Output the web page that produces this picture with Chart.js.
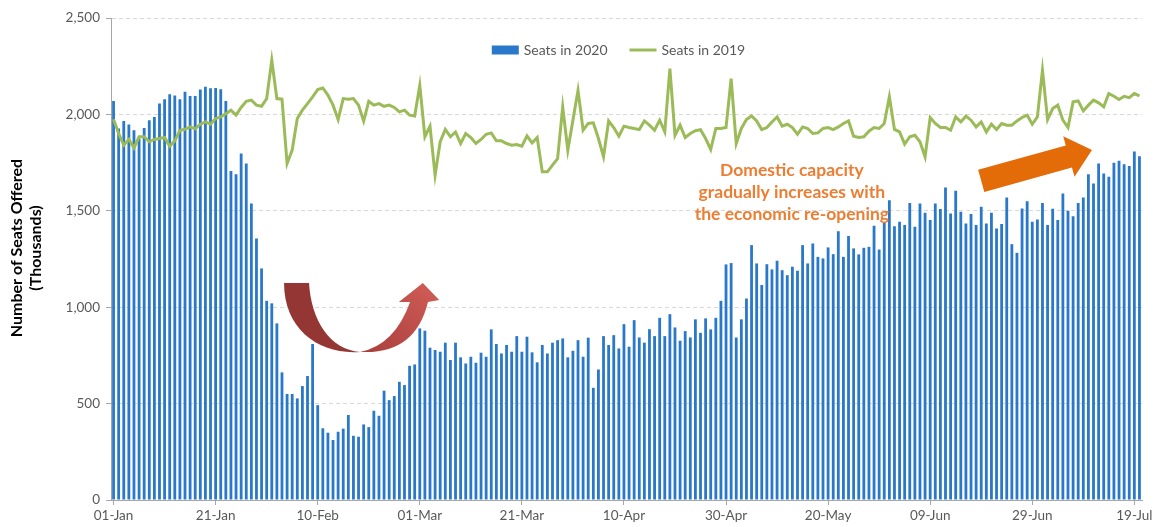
<!DOCTYPE html>
<html>
<head>
<meta charset="utf-8">
<script src="https://cdn.jsdelivr.net/npm/chart.js@4/dist/chart.umd.min.js"></script>
<style>
  html, body { margin: 0; padding: 0; background: #fff; }
</style>
</head>
<body>
<canvas id="seats" width="1162" height="527"></canvas>
<script>
// daily categories, 01-Jan to 20-Jul 2020
const monthNames = ['Jan','Feb','Mar','Apr','May','Jun','Jul'];
const days = [];
for (let d = new Date(2020, 0, 1); d <= new Date(2020, 6, 20); d.setDate(d.getDate() + 1)) {
  days.push(String(d.getDate()).padStart(2, '0') + '-' + monthNames[d.getMonth()]);
}
const labelEvery = 20;

// thousands of seats
const seats2020 = [
  2070,1927,1966,1947,1918,1875,1930,1970,1987,2056,2079,2105,2098,2079,2117,2096,2096,2129,2143,2136,
  2137,2131,2070,1706,1690,1797,1745,1538,1356,1201,1033,1020,916,662,550,550,527,591,643,809,
  492,372,349,311,354,370,441,333,328,392,378,463,437,567,518,539,613,596,696,703,
  890,878,790,778,769,816,726,816,740,708,743,712,764,743,885,809,760,804,769,850,
  769,847,766,714,804,760,816,829,838,740,774,829,743,842,582,677,850,804,855,786,
  912,795,933,843,816,886,850,945,850,964,895,826,876,843,937,867,942,885,945,1033,
  1222,1229,843,937,1045,1322,1227,1115,1223,1196,1241,1192,1166,1210,1189,1322,1227,1331,1261,1253,
  1310,1275,1394,1261,1369,1305,1274,1308,1313,1422,1299,1438,1555,1420,1443,1426,1541,1417,1538,1490,
  1452,1538,1509,1621,1486,1604,1495,1434,1483,1426,1521,1434,1490,1408,1431,1569,1327,1282,1512,1550,
  1443,1455,1541,1426,1510,1452,1590,1500,1472,1541,1569,1690,1642,1745,1693,1676,1749,1759,1742,1733,
  1807,1783
];
const seats2019 = [
  1975,1901,1840,1871,1826,1884,1884,1858,1870,1875,1880,1835,1863,1918,1923,1935,1925,1949,1961,1949,
  1979,1987,2004,2022,1996,2036,2068,2074,2048,2042,2082,2281,2082,2079,1745,1815,1979,2022,2056,2091,
  2129,2137,2100,2048,1973,2082,2079,2082,2048,1965,2068,2048,2056,2042,2048,2036,2013,2022,1996,1992,
  2151,1884,1939,1685,1858,1922,1884,1909,1849,1901,1880,1849,1870,1897,1904,1863,1863,1849,1840,1844,
  1835,1889,1852,1880,1702,1702,1737,1771,2039,1814,1970,2125,1918,1953,1956,1875,1780,1966,1932,1887,
  1939,1932,1927,1921,1966,1944,1918,1970,1910,2238,1892,1944,1880,1901,1915,1921,1875,1818,1927,1927,
  1932,2186,1849,1927,1973,1992,1966,1921,1932,1961,1987,1939,1949,1932,1897,1935,1927,1901,1904,1927,
  1932,1921,1935,1953,1966,1887,1880,1884,1913,1932,1927,1953,2091,1922,1909,1846,1884,1892,1858,1780,
  1984,1953,1932,1932,1918,1987,1961,1991,1970,1935,1961,1909,1949,1922,1953,1944,1944,1966,1984,1996,
  1949,1987,2229,1973,2030,2048,1970,1932,2065,2070,2018,2048,2074,2060,2039,2108,2094,2077,2094,2087,
  2108,2096
];

const yTicks = [0, 500, 1000, 1500, 2000, 2500];
const yTitle = ['Number of Seats Offered', '(Thousands)'];
const noteLines = ['Domestic capacity', 'gradually increases with', 'the economic re-opening'];

const blue = '#2a78c9';
const green = '#9bbb59';
const orange = '#e36c09';
const tickFont = { family: 'Lato', size: 13.5 };

// legend sitting inside the plot, like the original
const insideLegend = {
  id: 'insideLegend',
  afterDraw(chart) {
    const { ctx, chartArea } = chart;
    const sets = chart.data.datasets;
    ctx.save();
    ctx.font = '14px Lato';
    ctx.textBaseline = 'middle';
    const sym = 27, gap = 5, between = 22;
    const widths = sets.map(s => sym + gap + ctx.measureText(s.label).width);
    const total = widths.reduce((a, b) => a + b, 0) + between * (sets.length - 1);
    let x = (chartArea.left + chartArea.right) / 2 - 8 - total / 2;
    const y = chartArea.top + 32;
    sets.forEach((s, k) => {
      if (s.type === 'line') {
        ctx.strokeStyle = s.borderColor;
        ctx.lineWidth = 3;
        ctx.beginPath();
        ctx.moveTo(x, y);
        ctx.lineTo(x + sym, y);
        ctx.stroke();
      } else {
        ctx.fillStyle = s.backgroundColor;
        ctx.fillRect(x, y - 4.5, sym, 9);
      }
      ctx.fillStyle = '#595959';
      ctx.fillText(s.label, x + sym + gap, y);
      x += widths[k] + between;
    });

    // y axis title, centred a little above the plot middle as in the original
    ctx.translate(17, (chartArea.top + chartArea.bottom) / 2 - 11);
    ctx.rotate(-Math.PI / 2);
    ctx.font = 'bold 16px Lato';
    ctx.fillStyle = '#000';
    ctx.textAlign = 'center';
    yTitle.forEach((line, k) => ctx.fillText(line, 0, k * 19));
    ctx.restore();
  }
};

// arrows and the orange note, anchored on the chart's own scales
const notes = {
  id: 'notes',
  afterDatasetsDraw(chart) {
    const { ctx } = chart;
    const xs = chart.scales.x, ys = chart.scales.y;
    const P = (i, v) => [xs.getPixelForValue(i), ys.getPixelForValue(v)];

    ctx.save();
    // curved red arrow: dark lobe going down
    let a = P(33.4, 1125), b = P(38.3, 1125), c1 = P(38.7, 934), c2 = P(42.4, 778),
        bot = P(48.3, 768), o1 = P(40.4, 752), o2 = P(33.4, 882);
    ctx.fillStyle = '#943634';
    ctx.beginPath();
    ctx.moveTo(a[0], a[1]);
    ctx.lineTo(b[0], b[1]);
    ctx.bezierCurveTo(c1[0], c1[1], c2[0], c2[1], bot[0], bot[1]);
    ctx.bezierCurveTo(o1[0], o1[1], o2[0], o2[1], a[0], a[1]);
    ctx.fill();

    // light lobe rising into the head
    const uc = P(55.1, 804), hl = P(58.1, 1027), wl = P(55.9, 1027), tip = P(60.6, 1125),
          wr = P(63.8, 1037), hr = P(61.6, 1027), lc = P(59.1, 752);
    const g = ctx.createLinearGradient(bot[0], bot[1], tip[0], tip[1]);
    g.addColorStop(0, '#a83f3c');
    g.addColorStop(1, '#cd5a55');
    ctx.fillStyle = g;
    ctx.beginPath();
    ctx.moveTo(bot[0], bot[1]);
    ctx.quadraticCurveTo(uc[0], uc[1], hl[0], hl[1]);
    ctx.lineTo(wl[0], wl[1]);
    ctx.lineTo(tip[0], tip[1]);
    ctx.lineTo(wr[0], wr[1]);
    ctx.lineTo(hr[0], hr[1]);
    ctx.quadraticCurveTo(lc[0], lc[1], bot[0], bot[1]);
    ctx.fill();

    // straight orange arrow
    const t0 = P(170.0, 1655), t1 = P(191.7, 1815);
    const dx = t1[0] - t0[0], dy = t1[1] - t0[1], len = Math.hypot(dx, dy);
    const ux = dx / len, uy = dy / len, nx = -uy, ny = ux;
    const body = 11.5, head = 21, headLen = 24;
    const bx = t1[0] - ux * headLen, by = t1[1] - uy * headLen;
    ctx.fillStyle = orange;
    ctx.beginPath();
    ctx.moveTo(t0[0] + nx * body, t0[1] + ny * body);
    ctx.lineTo(bx + nx * body, by + ny * body);
    ctx.lineTo(bx + nx * head, by + ny * head);
    ctx.lineTo(t1[0], t1[1]);
    ctx.lineTo(bx - nx * head, by - ny * head);
    ctx.lineTo(bx - nx * body, by - ny * body);
    ctx.lineTo(t0[0] - nx * body, t0[1] - ny * body);
    ctx.closePath();
    ctx.fill();

    // note text
    const n = P(132.9, 1712);
    ctx.font = 'bold 17.5px Lato';
    ctx.fillStyle = '#ed7d31';
    ctx.textAlign = 'center';
    ctx.textBaseline = 'middle';
    noteLines.forEach((line, k) => ctx.fillText(line, n[0], n[1] + k * 22));
    ctx.restore();
  }
};

new Chart(document.getElementById('seats'), {
  data: {
    labels: days,
    datasets: [
      {
        type: 'bar',
        label: 'Seats in 2020',
        data: seats2020,
        backgroundColor: blue,
        borderWidth: 0,
        barPercentage: 0.55,
        categoryPercentage: 1.0,
        order: 2
      },
      {
        type: 'line',
        label: 'Seats in 2019',
        data: seats2019,
        borderColor: green,
        backgroundColor: green,
        borderWidth: 3,
        pointRadius: 0,
        tension: 0,
        order: 1
      }
    ]
  },
  options: {
    responsive: false,
    animation: false,
    devicePixelRatio: 1,
    layout: { padding: { left: 0, right: 20, top: 18, bottom: 0 } },
    plugins: {
      legend: { display: false },
      tooltip: { enabled: false }
    },
    scales: {
      x: {
        offset: true,
        grid: {
          offset: false,
          drawOnChartArea: false,
          tickLength: 5,
          tickColor: c => (c.index % labelEvery === 0 ? '#a6a6a6' : 'rgba(0,0,0,0)')
        },
        border: { color: '#a6a6a6' },
        ticks: {
          autoSkip: false,
          maxRotation: 0,
          padding: 3,
          color: '#595959',
          font: tickFont,
          callback: (v, i) => (i % labelEvery === 0 ? days[i] : '')
        },
        afterFit: s => { s.height = 27; }
      },
      y: {
        min: 0,
        max: 2500,
        afterBuildTicks: s => { s.ticks = yTicks.map(v => ({ value: v })); },
        grid: { color: '#d9d9d9', tickColor: '#a6a6a6', tickLength: 5 },
        border: { color: '#a6a6a6', dash: [4, 3] },
        ticks: {
          padding: 6,
          color: '#595959',
          font: tickFont,
          callback: v => v.toLocaleString('en-US')
        },
        afterFit: s => { s.width = 111; }
      }
    }
  },
  plugins: [notes, insideLegend]
});
</script>
</body>
</html>
